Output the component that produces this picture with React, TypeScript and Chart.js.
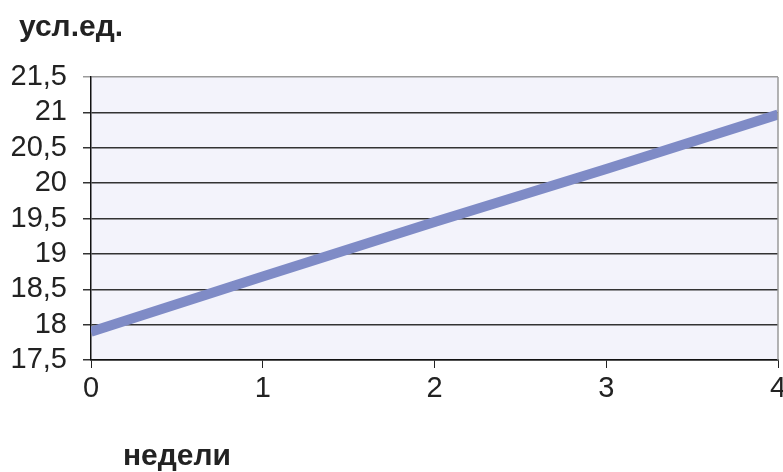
import React, { useEffect, useRef } from "react";
import { Chart, registerables } from "chart.js";

Chart.register(...registerables);

const weeks = [0, 1, 2, 3, 4];
const values = [17.9, 18.68, 19.45, 20.2, 20.97];
const yUnit = "усл.ед.";
const xUnit = "недели";
const yMin = 17.5;
const yMax = 21.5;
const yStep = 0.5;

const FONT = "'Liberation Sans', Arial, sans-serif";

const decor = {
  id: "decor",
  beforeDraw(chart: any) {
    const { ctx, chartArea: a } = chart;
    ctx.save();
    ctx.fillStyle = "#f3f3fb";
    ctx.fillRect(a.left, a.top, a.right - a.left, a.bottom - a.top);
    ctx.restore();
  },
  afterDraw(chart: any) {
    const { ctx, chartArea: a } = chart;
    ctx.save();
    ctx.strokeStyle = "#9a9a9a";
    ctx.lineWidth = 1.5;
    ctx.beginPath();
    ctx.moveTo(a.right, a.top);
    ctx.lineTo(a.right, a.bottom);
    ctx.stroke();
    ctx.fillStyle = "#222";
    ctx.font = `bold 30px ${FONT}`;
    ctx.textBaseline = "alphabetic";
    ctx.textAlign = "left";
    ctx.fillText(yUnit, 19, 36);
    ctx.fillText(xUnit, 123, 465);
    ctx.restore();
  },
};

export default function App() {
  const ref = useRef<HTMLCanvasElement>(null);
  useEffect(() => {
    document.body.style.margin = "0";
    const chart = new Chart(ref.current!, {
      type: "line",
      data: {
        datasets: [
          {
            data: weeks.map((w, i) => ({ x: w, y: values[i] })),
            borderColor: "#7f8bc6",
            borderWidth: 10,
            pointRadius: 0,
            tension: 0,
          },
        ],
      },
      options: {
        animation: false,
        responsive: false,
        layout: { padding: { top: 77, right: 5, bottom: 0, left: 0 } },
        plugins: { legend: { display: false }, tooltip: { enabled: false } },
        scales: {
          x: {
            type: "linear",
            min: 0,
            max: 4,
            ticks: {
              stepSize: 1,
              color: "#222",
              font: { family: FONT, size: 29 },
              padding: 4,
            },
            grid: {
              drawOnChartArea: false,
              color: "#222",
              tickLength: 8,
            },
            border: { color: "#111", width: 1.5 },
            afterFit(s: any) {
              s.height = 112;
              s.paddingLeft = 0;
              s.paddingRight = 0;
            },
          },
          y: {
            min: yMin,
            max: yMax,
            ticks: {
              stepSize: yStep,
              autoSkip: false,
              color: "#222",
              font: { family: FONT, size: 29 },
              padding: 16,
              callback: (v: any) => String(v).replace(".", ","),
            },
            grid: {
              color: (c: any) => (c.tick && c.tick.value === yMax ? "#9a9a9a" : "#333"),
              lineWidth: 1.5,
              tickLength: 8,
            },
            border: { color: "#111", width: 1.5 },
            afterFit(s: any) {
              s.width = 91;
              s.paddingTop = 0;
              s.paddingBottom = 0;
            },
          },
        },
      },
      plugins: [decor],
    });
    return () => chart.destroy();
  }, []);
  return (
    <div style={{ position: "absolute", left: 0, top: 0, width: 783, height: 472, background: "#fff" }}>
      <canvas ref={ref} width={783} height={472} style={{ display: "block" }} />
    </div>
  );
}
